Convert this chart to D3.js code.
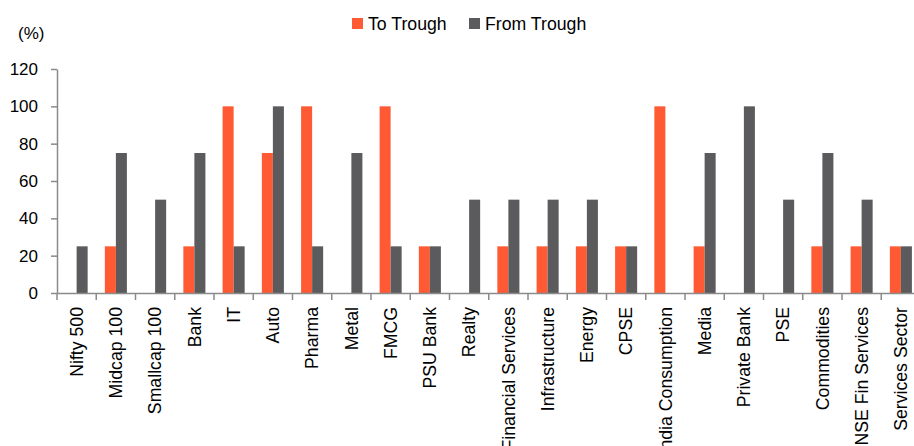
<!DOCTYPE html>
<html><head><meta charset="utf-8">
<script src="https://cdn.jsdelivr.net/npm/d3@7"></script>
<style>body{margin:0;background:#fff;}svg{display:block;font-family:"Liberation Sans",Arial,sans-serif;}</style>
</head><body>
<svg id="c" width="914" height="446"></svg>
<script>
const categories = ["Nifty 500","Midcap 100","Smallcap 100","Bank","IT","Auto","Pharma","Metal","FMCG","PSU Bank","Realty","Financial Services","Infrastructure","Energy","CPSE","India Consumption","Media","Private Bank","PSE","Commodities","NSE Fin Services","Services Sector"];
const toTrough   = [0,25,0,25,100,75,100,0,100,25,0,25,25,25,25,100,25,0,0,25,25,25];
const fromTrough = [25,75,50,75,25,100,25,75,25,25,50,50,50,50,25,0,75,100,50,75,50,25];
const seriesNames = ["To Trough","From Trough"];
const seriesColors = ["#FF5A33","#5B5B5D"];
const yTicks = [0,20,40,60,80,100,120];

const svg = d3.select("#c");
const x0 = d3.scaleBand().domain(categories).range([57, 920.5]).paddingInner(0).paddingOuter(0);
const x1 = d3.scaleBand().domain(seriesNames).range([0, x0.bandwidth()]).paddingInner(0).paddingOuter(0.78);
const y = d3.scaleLinear().domain([0,120]).range([293, 69]);
const color = d3.scaleOrdinal().domain(seriesNames).range(seriesColors);

const data = categories.map((c,i)=>({cat:c, vals:[{s:seriesNames[0],v:toTrough[i]},{s:seriesNames[1],v:fromTrough[i]}]}));

const g = svg.append("g");
g.selectAll("g.grp").data(data).join("g").attr("class","grp")
  .attr("transform", d=>`translate(${x0(d.cat)},0)`)
  .selectAll("rect").data(d=>d.vals.filter(e=>e.v>0)).join("rect")
  .attr("x", d=>x1(d.s)).attr("width", x1.bandwidth())
  .attr("y", d=>y(d.v)).attr("height", d=>y(0)-y(d.v))
  .attr("fill", d=>color(d.s));

// Y axis
const yAxis = d3.axisLeft(y).tickValues(yTicks).tickSize(6).tickPadding(13).tickSizeOuter(0);
const ya = svg.append("g").attr("transform","translate(57,0)").call(yAxis);
ya.select(".domain").attr("stroke","#8a8a8a").attr("stroke-width",1.5);
ya.selectAll(".tick line").attr("stroke","#8a8a8a").attr("stroke-width",1.5);
ya.selectAll(".tick text").attr("font-size","17px").attr("fill","#000").attr("font-family","Liberation Sans, Arial, sans-serif");

// X axis
const xAxis = d3.axisBottom(x0).tickSize(0).tickPadding(0);
const xa = svg.append("g").attr("transform",`translate(0,${y(0)})`).call(xAxis);
xa.select(".domain").attr("stroke","#8a8a8a").attr("stroke-width",1.5);
xa.selectAll(".tick text").attr("font-size","17.7px").attr("fill","#000")
  .attr("font-family","Liberation Sans, Arial, sans-serif")
  .attr("text-anchor","end").attr("dy","0.35em")
  .attr("transform","translate(0,14) rotate(-90)").attr("x",0).attr("y",0);
// boundary ticks between categories
const bounds = categories.map(c=>x0(c)).concat([x0(categories[categories.length-1])+x0.bandwidth()]);
xa.selectAll("line.bt").data(bounds).join("line").attr("class","bt")
  .attr("x1",d=>d).attr("x2",d=>d).attr("y1",0).attr("y2",7)
  .attr("stroke","#8a8a8a").attr("stroke-width",1.5);

// unit label
svg.append("text").attr("x",18).attr("y",39).attr("font-size","17px").text("(%)");

// legend
const lg = svg.append("g");
const lx = [352, 469];
seriesNames.forEach((s,i)=>{
  lg.append("rect").attr("x",lx[i]).attr("y",18).attr("width",11).attr("height",11).attr("fill",seriesColors[i]);
  lg.append("text").attr("x",lx[i]+16).attr("y",30).attr("font-size","17.7px").text(s);
});
</script>
</body></html>
